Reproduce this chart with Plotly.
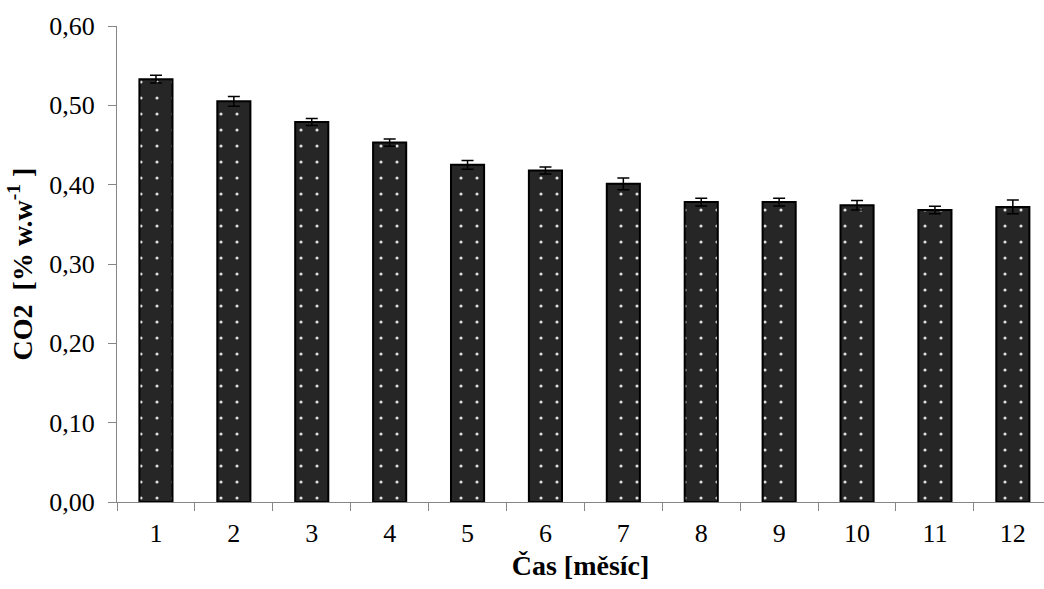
import plotly.graph_objects as go

months = ["1", "2", "3", "4", "5", "6", "7", "8", "9", "10", "11", "12"]
co2 = [0.533, 0.505, 0.479, 0.453, 0.425, 0.418, 0.401, 0.378, 0.378, 0.374, 0.368, 0.372]
co2_err = [0.005, 0.006, 0.0045, 0.0045, 0.0055, 0.0044, 0.0073, 0.0048, 0.0048, 0.0059, 0.0048, 0.0088]
y_ticks = [0.0, 0.1, 0.2, 0.3, 0.4, 0.5, 0.6]

FONT = "Liberation Serif, Times New Roman, serif"
AXIS_GRAY = "#868686"

fig = go.Figure()
fig.add_trace(go.Bar(
    x=months,
    y=co2,
    marker=dict(
        color="#262626",
        line=dict(color="black", width=2),
        pattern=dict(shape=".", fgcolor="#e0e0e0", bgcolor="#262626",
                     size=16, solidity=0.03, fillmode="replace"),
    ),
    error_y=dict(type="data", array=co2_err, visible=True,
                 color="black", thickness=1.5, width=6),
    showlegend=False,
))

fig.update_layout(
    width=1044,
    height=589,
    margin=dict(l=117, r=0, t=26, b=87, autoexpand=False),
    paper_bgcolor="white",
    plot_bgcolor="white",
    separators=", ",
    bargap=0.575,
    font=dict(family=FONT, size=26, color="black"),
    xaxis=dict(
        type="category",
        range=[-0.5, 11.4],
        tickson="boundaries",
        ticks="outside",
        ticklen=8,
        tickcolor=AXIS_GRAY,
        tickwidth=1,
        showline=True,
        linecolor=AXIS_GRAY,
        linewidth=1,
        showgrid=False,
        tickfont=dict(family=FONT, size=26),
        ticklabelstandoff=8,
        title=dict(text="<b>Čas [měsíc]</b>", font=dict(family=FONT, size=28), standoff=8),
        automargin=False,
    ),
    yaxis=dict(
        range=[0, 0.6],
        tickvals=y_ticks,
        tickformat=".2f",
        ticks="outside",
        ticklen=8,
        tickcolor=AXIS_GRAY,
        tickwidth=1,
        showline=True,
        linecolor=AXIS_GRAY,
        linewidth=1,
        showgrid=False,
        zeroline=False,
        tickfont=dict(family=FONT, size=26),
        ticklabelstandoff=8,
        title=dict(text="<b>CO2  [% w.w<sup>-1</sup> ]</b>", font=dict(family=FONT, size=28), standoff=8),
        automargin=False,
    ),
)

fig.write_html("out.html")
